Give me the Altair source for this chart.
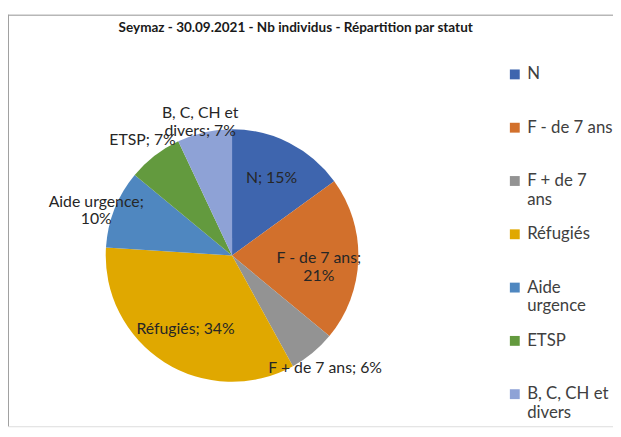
import json
import altair as alt
import pandas as pd

# ---- data ----
categories = ["N", "F - de 7 ans", "F + de 7 ans", "Réfugiés",
              "Aide urgence", "ETSP", "B, C, CH et divers"]
values = [15, 21, 6, 34, 10, 7, 7]
legend_labels = ["N", "F - de 7 ans", "F + de 7|ans", "Réfugiés",
                 "Aide|urgence", "ETSP", "B, C, CH et|divers"]
slice_label_templates = ["N; {}%", "F - de 7 ans;\n{}%", "F + de 7 ans; {}%",
                         "Réfugiés; {}%", "Aide urgence;\n{}%", "ETSP; {}%",
                         "B, C, CH et\ndivers; {}%"]
title_text = "Seymaz - 30.09.2021 - Nb individus - Répartition par statut"

# ---- styles ----
colors = ["#3E65AE", "#D2702C", "#939393", "#E0A800",
          "#4F87C0", "#639A3E", "#8EA2D6"]
FONT = "Lato"
W, H = 613, 417
CX, CY, R = 227, 244, 128

df = pd.DataFrame({
    "cat": categories,
    "value": values,
    "idx": list(range(len(categories))),
    "label": [t.format(v) for t, v in zip(slice_label_templates, values)],
})

legend_map = json.dumps(dict(zip(categories, legend_labels)), ensure_ascii=False)

color = alt.Color(
    "cat:N",
    scale=alt.Scale(domain=categories, range=colors),
    legend=alt.Legend(
        orient="none", legendX=505, legendY=52, title=None,
        symbolType="square", symbolSize=100, symbolStrokeWidth=0,
        labelFont=FONT, labelFontSize=17, labelColor="#404040",
        labelExpr="split(" + legend_map + "[datum.label], '|')",
        gridAlign="all", rowPadding=17, labelOffset=4, labelLimit=200,
    ),
)

base = alt.Chart(df)

pie = base.mark_arc(outerRadius=R).encode(
    theta=alt.Theta("value:Q", stack=True),
    color=color,
    order=alt.Order("idx:Q"),
    x=alt.value(CX), y=alt.value(CY),
)

labels = base.transform_joinaggregate(
    total="sum(value)"
).transform_window(
    cum="sum(value)", sort=[alt.SortField("idx")], frame=[None, 0]
).transform_calculate(
    mid="(datum.cum - datum.value / 2) / datum.total * 2 * PI",
    r="datum.value <= 10 ? 148 : 88",
).mark_text(
    font=FONT, fontSize=16, color="#262626", align="center",
    baseline="middle", lineBreak="\n",
).encode(
    theta=alt.Theta("mid:Q", scale=None),
    radius=alt.Radius("r:Q", scale=None),
    text="label:N",
    x=alt.value(CX), y=alt.value(CY),
)

frame_data = alt.Data(values=[{"t": title_text}])
frame_top = alt.Chart(frame_data).mark_rule(color="#A0A0A0", strokeWidth=1).encode(
    x=alt.value(0), x2=alt.value(W), y=alt.value(0.5))
frame_left = alt.Chart(frame_data).mark_rule(color="#A0A0A0", strokeWidth=1).encode(
    x=alt.value(0.5), y=alt.value(0), y2=alt.value(H))
title = alt.Chart(frame_data).mark_text(
    font=FONT, fontSize=13.7, fontWeight="bold", color="#1A1A1A",
    align="center", baseline="middle",
).encode(text="t:N", x=alt.value(291.5), y=alt.value(14))

chart = alt.layer(frame_top, frame_left, title, pie, labels).properties(
    width=W, height=H,
    autosize=alt.AutoSizeParams(type="none"),
    padding={"left": 0, "top": 4, "right": 0, "bottom": 0},
).configure_view(strokeWidth=0, stroke="transparent").configure(background="white")

chart.save("out.html", embed_options={"renderer": "svg", "actions": False})
